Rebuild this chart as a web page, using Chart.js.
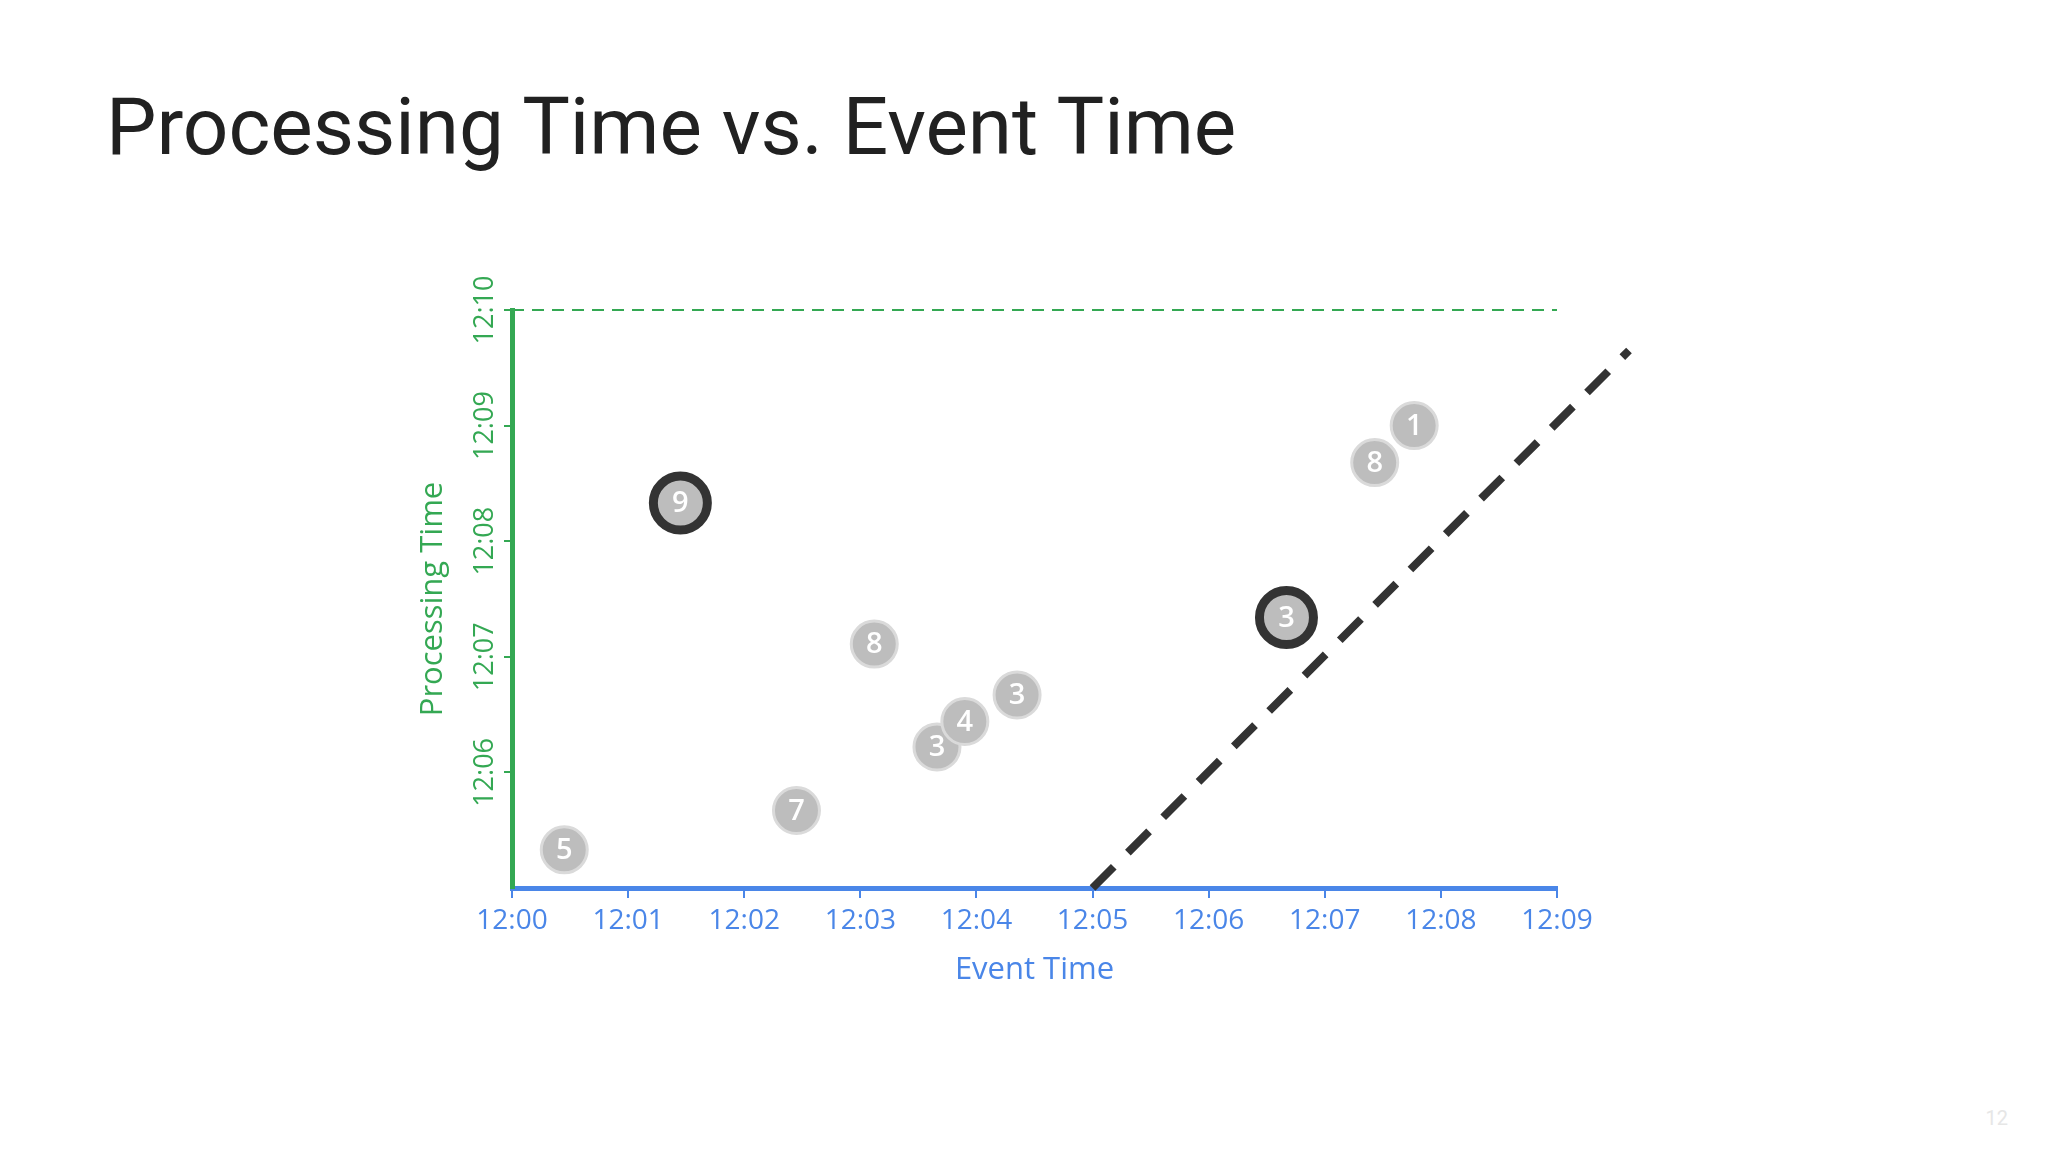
<!DOCTYPE html>
<html><head><meta charset="utf-8">
<script src="https://cdn.jsdelivr.net/npm/chart.js@4/dist/chart.umd.min.js"></script>
<style>
html,body{margin:0;padding:0;background:#fff;width:2048px;height:1152px;overflow:hidden}
#title{position:absolute;left:106px;top:80px;font-family:Roboto;font-size:80px;color:#212121;white-space:nowrap}
#page{position:absolute;right:40px;bottom:22px;font-family:Roboto;font-size:20px;color:#e6e6e6}
canvas{position:absolute;left:0;top:0}
</style></head><body>
<div id="title">Processing Time vs. Event Time</div>
<div id="page">12</div>
<canvas id="c" width="2048" height="1152"></canvas>
<script>
// event time (minutes after 12:00), processing time (minutes after 12:05)
const eventMin = [0.45, 1.45, 2.45, 3.12, 3.66, 3.90, 4.35, 6.67, 7.43, 7.77];
const procMin  = [0.33, 3.33, 0.67, 2.11, 1.22, 1.44, 1.67, 2.34, 3.68, 4.00];
const scores   = ['5','9','7','8','3','4','3','3','8','1'];
const highlighted = [false,true,false,false,false,false,false,true,false,false];
const watermarkX = [5, 9.62];
const watermarkY = [0, 4.65];
const xTicks = [0,1,2,3,4,5,6,7,8,9];
const yTicks = [1,2,3,4,5];

const pts = eventMin.map((x,i)=>({x, y:procMin[i]}));
const labelPlugin = {
  id:'labels',
  afterDatasetsDraw(chart){
    const ctx=chart.ctx, xs=chart.scales.x, ys=chart.scales.y;
    ctx.save();
    ctx.font='600 29px "Open Sans"';
    ctx.fillStyle='#ffffff';
    ctx.textAlign='center';ctx.textBaseline='middle';
    scores.forEach((s,i)=>ctx.fillText(s, xs.getPixelForValue(eventMin[i]), ys.getPixelForValue(procMin[i])+1));
    ctx.restore();
  }
};
new Chart(document.getElementById('c'),{
  type:'scatter',
  data:{datasets:[
    {data:pts, pointRadius:highlighted.map(h=>h?27:23), pointHoverRadius:23, backgroundColor:'#bdbdbd',
     borderColor:highlighted.map(h=>h?'#333333':'#dadada'),
     borderWidth:highlighted.map(h=>h?9:3), order:1},
    {type:'line', data:watermarkX.map((x,i)=>({x,y:watermarkY[i]})), borderColor:'#333333',
     borderWidth:8, borderDash:[30,20], pointRadius:0, clip:false, order:2},
    {type:'line', data:[{x:0,y:5},{x:9,y:5}], borderColor:'#34a853', borderWidth:2,
     borderDash:[12,8], pointRadius:0, clip:false, order:3}
  ]},
  options:{
    responsive:false, animation:false,
    layout:{padding:{left:411,right:491,top:310,bottom:159}},
    plugins:{legend:{display:false},tooltip:{enabled:false}},
    scales:{
      x:{type:'linear',min:0,max:9,
        afterFit(s){s.height=105;},
        afterBuildTicks(s){s.ticks=xTicks.map(v=>({value:v}));},
        grid:{display:true,drawOnChartArea:false,tickLength:10,color:'#4a86e8',lineWidth:2},
        border:{color:'#4a86e8',width:5},
        ticks:{color:'#4a86e8',font:{family:'"Open Sans"',size:28},maxRotation:0,padding:6,
          callback:v=>'12:0'+v},
        title:{display:true,text:'Event Time',color:'#4a86e8',font:{family:'"Open Sans"',size:31},padding:{top:2}}
      },
      y:{type:'linear',min:0,max:5,
        afterFit(s){s.width=101;},
        afterBuildTicks(s){s.ticks=yTicks.map(v=>({value:v}));},
        grid:{display:true,drawOnChartArea:false,tickLength:8,color:'#34a853',lineWidth:2},
        border:{color:'#34a853',width:5},
        ticks:{color:'#34a853',font:{family:'"Open Sans"',size:27},minRotation:90,maxRotation:90,padding:-16,
          crossAlign:'center', callback:v=>'12:'+String(5+v).padStart(2,'0')},
        title:{display:true,text:'Processing Time',color:'#34a853',font:{family:'"Open Sans"',size:31},padding:{bottom:0}}
      }
    }
  },
  plugins:[labelPlugin]
});
</script></body></html>
